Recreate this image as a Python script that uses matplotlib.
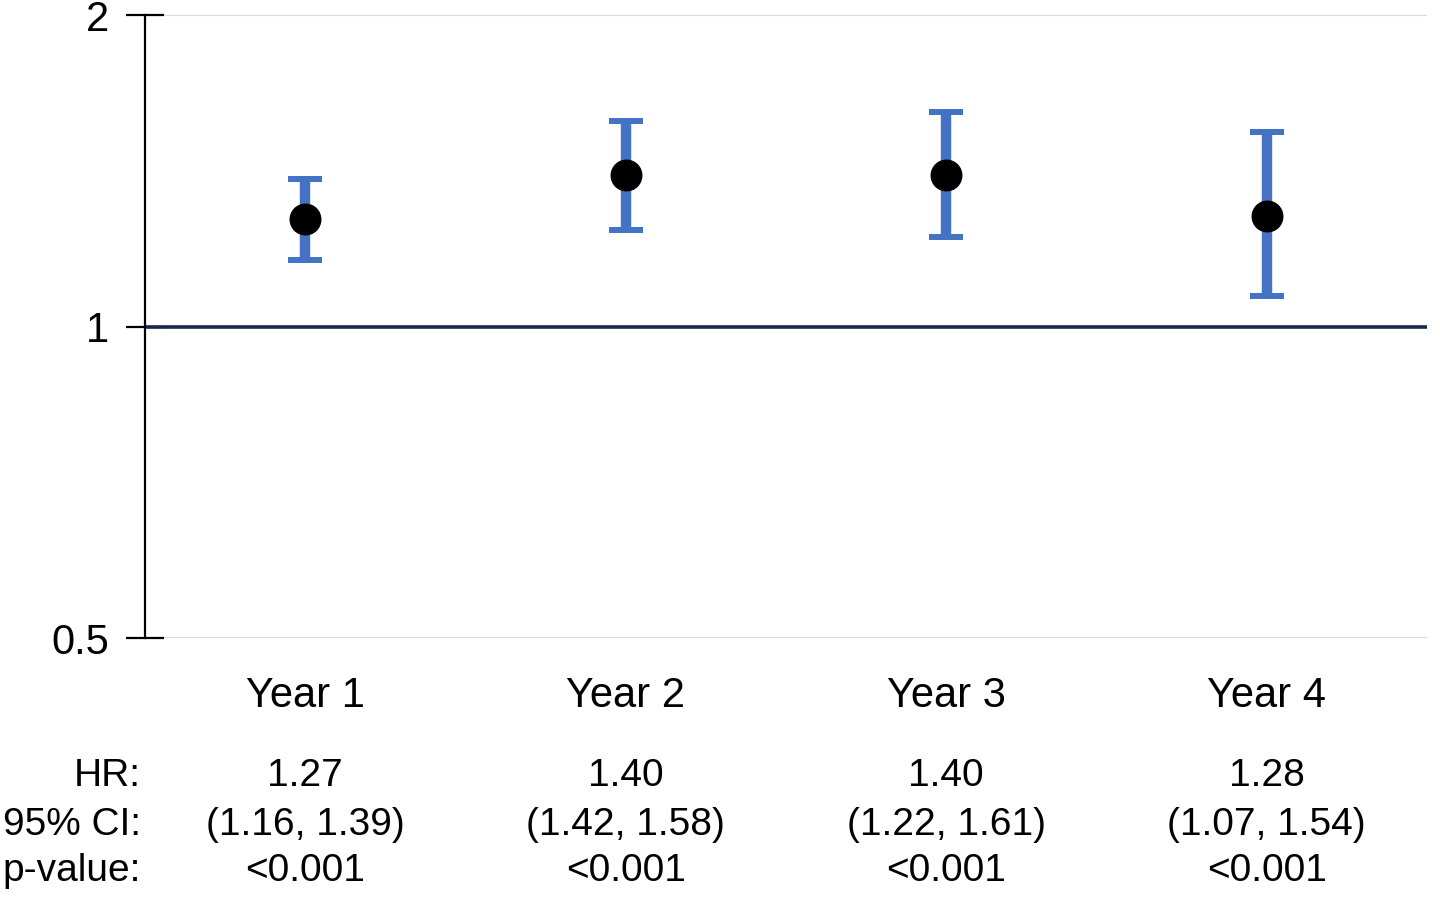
import numpy as np
import matplotlib.pyplot as plt
from matplotlib.ticker import FixedLocator, NullLocator

plt.rcParams['font.family'] = ['Liberation Sans', 'DejaVu Sans']

# Data
years = ["Year 1", "Year 2", "Year 3", "Year 4"]
hr = [1.27, 1.40, 1.40, 1.28]
ci_low = [1.16, 1.24, 1.22, 1.07]
ci_high = [1.39, 1.58, 1.61, 1.54]
hr_text = ["1.27", "1.40", "1.40", "1.28"]
ci_text = ["(1.16, 1.39)", "(1.42, 1.58)", "(1.22, 1.61)", "(1.07, 1.54)"]
p_text = ["<0.001", "<0.001", "<0.001", "<0.001"]
row_names = ["HR:", "95% CI:", "p-value:"]

x = np.arange(len(years))
hr = np.array(hr)
yerr = [hr - np.array(ci_low), np.array(ci_high) - hr]

fig = plt.figure(figsize=(14.4, 8.99), dpi=100)
ax = fig.add_axes([0.1007, 0.2903, 0.8903, 0.693])

ax.set_yscale('log')
ax.set_ylim(0.5, 2)
ax.set_xlim(-0.5, 3.5)

# reference line at HR = 1
ax.axhline(1, color='#132A4A', lw=2.6, zorder=2)

ax.errorbar(x, hr, yerr=yerr, fmt='none', ecolor='#4472C4', elinewidth=7.5,
            capsize=12, capthick=4.3, zorder=3)
ax.plot(x, hr, 'o', color='black', markersize=22, zorder=4)

ax.yaxis.set_major_locator(FixedLocator([0.5, 1, 2]))
ax.yaxis.set_minor_locator(NullLocator())
ax.set_yticklabels(["0.5", "1", "2"])
ax.grid(axis='y', color='#D9D9D9', lw=1.5, zorder=1)
ax.set_axisbelow(True)

ax.set_xticks(x)
ax.set_xticklabels(years)
ax.tick_params(axis='x', length=0, pad=27, labelsize=30)
ax.tick_params(axis='y', direction='inout', length=28, width=1.6,
               pad=12, labelsize=30)

for s in ['top', 'right', 'bottom']:
    ax.spines[s].set_visible(False)
ax.spines['left'].set_linewidth(1.6)

# summary table under the chart
trans = ax.get_xaxis_transform()
row_y = [-0.222, -0.30, -0.374]
for name, ry in zip(row_names, row_y):
    ax.text(-0.003, ry, name, transform=ax.transAxes, ha='right', va='center',
            fontsize=28)
for i in range(len(years)):
    ax.text(x[i], row_y[0], hr_text[i], transform=trans, ha='center',
            va='center', fontsize=28)
    ax.text(x[i], row_y[1], ci_text[i], transform=trans, ha='center',
            va='center', fontsize=28)
    ax.text(x[i], row_y[2], p_text[i], transform=trans, ha='center',
            va='center', fontsize=28)

fig.savefig('out.png', dpi=100)
